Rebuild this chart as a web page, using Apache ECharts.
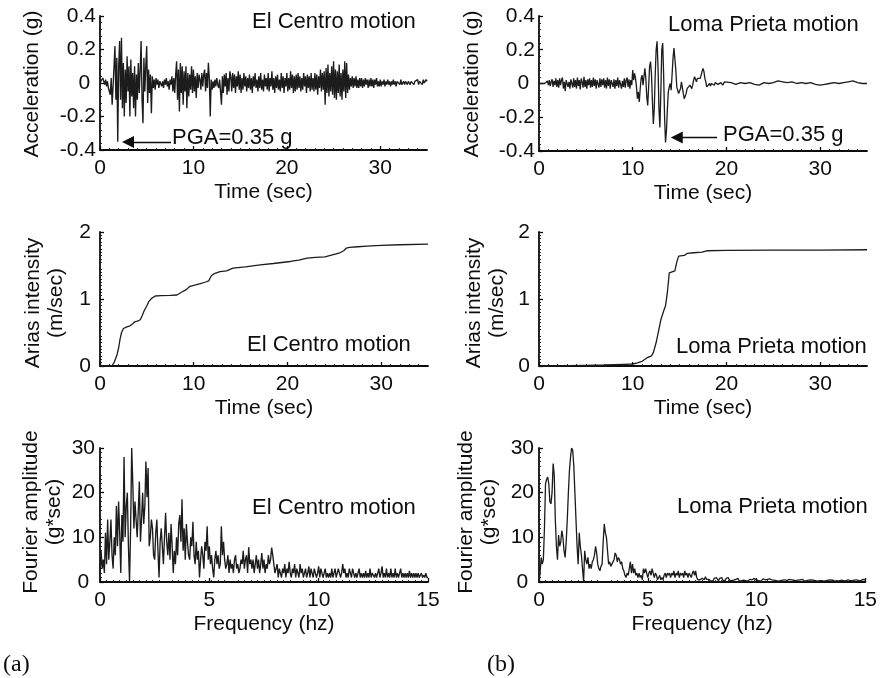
<!DOCTYPE html>
<html><head><meta charset="utf-8">
<script src="https://cdn.jsdelivr.net/npm/echarts@6/dist/echarts.min.js"></script>
<style>html,body{margin:0;padding:0;background:#fff}#c{width:880px;height:678px}</style>
</head><body><div id="c"></div>
<script>
// ---------- data ----------
const timeTicks = [0, 10, 20, 30];
const freqTicks = [0, 5, 10, 15];
const accTicks = [-0.4, -0.2, 0, 0.2, 0.4];
const ariasTicks = [0, 1, 2];
const fourierTicks = [0, 10, 20, 30];

// El Centro acceleration (g), dt = 0.1 s, t = 0..35 s
const elcAccDt = 0.1;
const elcAcc = [
 0, 0.01, -0.01, 0.03, 0.01, -0.01, 0.02, -0.02, 0.01, -0.03,
 -0.04, -0.07, 0.03, -0.13, -0.02, 0.1, 0.22, -0.1, 0.15, -0.35,
 0.1, 0.25, -0.1, 0.27, -0.15, 0.12, -0.2, 0.08, -0.12, 0.16,
 -0.05, 0.1, -0.2, 0.14, -0.08, 0.06, -0.15, 0.1, -0.2, 0.05,
 -0.1, 0.12, -0.06, 0.08, 0.25, -0.1, -0.24, 0.15, -0.05, 0.1,
 0.22, -0.12, 0.08, -0.06, 0.05, -0.18, 0.04, -0.03, 0.02, -0.04,
 0.03, -0.01, 0.02, -0.03, 0.01, 0.02, -0.02, 0.01, -0.03, 0.02,
 -0.01, 0.03, -0.02, 0.01, -0.04, 0.02, -0.01, 0.04, -0.05, 0.03,
 -0.06, 0.05, 0.13, -0.1, 0.08, -0.17, 0.12, -0.06, 0.1, -0.13,
 0.07, -0.05, 0.1, -0.15, 0.06, -0.08, 0.05, -0.04, 0.1, -0.06,
 0.08, -0.05, 0.04, -0.09, 0.06, -0.03, 0.05, 0.02, -0.04, 0.06,
 -0.02, 0.05, 0.08, -0.05, 0.06, -0.03, 0.12, 0.03, -0.2, 0.02,
 -0.04, 0.01, -0.03, 0.02, -0.02, 0.03, -0.01, -0.03, 0.02, -0.05,
 -0.13, 0.04, -0.06, 0.05, -0.02, 0.06, -0.07, 0.03, -0.05, 0.07,
 0.04, -0.05, 0.06, -0.03, 0.05, -0.06, 0.04, -0.02, 0.07, -0.04,
 0.05, -0.06, 0.03, -0.04, 0.06, -0.02, 0.04, -0.05, 0.03, -0.03,
 0.05, -0.04, 0.03, -0.06, 0.04, -0.02, 0.06, -0.03, 0.02, -0.05,
 0.04, -0.03, 0.06, -0.04, 0.02, -0.05, 0.05, -0.02, 0.03, -0.04,
 0.06, -0.05, 0.03, -0.02, 0.07, -0.04, 0.03, -0.06, 0.04, -0.03,
 0.05, -0.04, 0.02, -0.05, 0.06, -0.03, 0.04, -0.06, 0.03, -0.02,
 0.06, -0.05, 0.03, -0.04, 0.07, -0.03, 0.05, -0.06, 0.04, -0.05,
 0.05, -0.04, 0.06, -0.03, 0.04, -0.05, 0.03, -0.04, 0.06, -0.02,
 0.04, -0.06, 0.05, -0.03, 0.04, -0.05, 0.06, -0.04, 0.03, -0.05,
 0.06, -0.04, 0.05, -0.07, 0.04, -0.03, 0.08, -0.05, 0.06, -0.04,
 0.07, -0.13, 0.09, -0.06, 0.11, -0.08, 0.06, -0.05, 0.1, -0.07,
 0.13, -0.09, 0.08, -0.1, 0.07, -0.06, 0.11, -0.08, 0.06, -0.1,
 0.08, -0.05, 0.13, -0.09, 0.12, -0.06, 0.05, -0.04, 0.03, -0.02,
 0.04, -0.03, 0.03, -0.02, 0.04, -0.03, 0.02, -0.03, 0.03, -0.02,
 0.03, -0.03, 0.02, -0.02, 0.03, -0.01, 0.02, -0.03, 0.02, -0.02,
 0.03, -0.02, 0.02, -0.03, 0.02, -0.01, 0.03, -0.02, 0.01, -0.02,
 0.02, -0.02, 0.01, -0.01, 0.02, -0.02, 0.01, -0.01, 0.02, -0.01,
 0.01, -0.02, 0.01, -0.01, 0.02, -0.01, 0.01, -0.02, 0.01, 0.00,
 0.01, -0.01, 0.02, -0.01, 0.00, 0.01, -0.01, 0.01, 0.00, -0.01,
 0.01, 0.00, -0.01, 0.01, 0.02, 0.00, -0.01, 0.01, 0.00, 0.01,
 0.02, -0.01, 0.01, 0.00, 0.02, -0.01, 0.02, 0.00, 0.01, 0.02,
 0.01
];

// Loma Prieta acceleration (g): dt = 0.1 s for 0..19.9 s, then dt = 0.5 s for 20..35 s
const lpAccFineDt = 0.1;
const lpAccFine = [
 0, 0, 0.005, 0, -0.005, 0.005, 0, -0.01, 0.01, 0.015,
 -0.01, 0.02, -0.015, 0.01, 0.025, -0.02, 0.015, -0.01, 0.03, -0.02,
 0.02, -0.025, 0.03, -0.01, 0.02, 0.035, -0.03, 0.01, -0.045, 0.02,
 0.03, -0.02, 0.01, -0.03, 0.025, 0.015, -0.025, 0.03, -0.02, 0.02,
 -0.03, 0.035, -0.015, 0.02, -0.035, 0.03, 0.01, -0.025, 0.04, -0.02,
 0.02, -0.03, 0.025, -0.01, 0.03, -0.025, 0.02, -0.02, 0.035, -0.015,
 0.025, -0.03, 0.02, 0.01, -0.025, 0.03, -0.02, 0.025, -0.01, 0.03,
 -0.025, 0.02, -0.03, 0.035, -0.015, 0.025, -0.03, 0.02, 0.03, -0.02,
 0.025, -0.03, 0.02, -0.015, 0.035, -0.025, 0.02, 0.03, -0.03, 0.015,
 -0.02, 0.03, -0.025, 0.02, 0.035, -0.02, 0.025, -0.03, 0.02, -0.01,
 0.08, 0.02, 0.06, 0.03, -0.02, -0.09, -0.05, -0.11, -0.03, 0.03,
 0.05, -0.01, 0.04, 0.09, 0.03, -0.08, -0.13, -0.02, 0.1, 0.13,
 0.06, -0.1, -0.24, -0.15, 0.05, 0.2, 0.25, 0.1, -0.15, -0.26,
 -0.05, 0.2, 0.24, 0.05, -0.2, -0.35, -0.28, -0.15, -0.05, -0.02,
 0.0, -0.04, 0.05, 0.15, 0.21, 0.2, 0.08, -0.02, -0.04, -0.06,
 -0.07, -0.03, 0.01, 0.0, -0.06, -0.09, -0.09, -0.06, -0.03, -0.02,
 -0.03, -0.01, -0.02, -0.03, -0.01, 0.02, 0.04, 0.03, 0.01, 0.03,
 0.04, 0.02, 0.03, 0.05, 0.07, 0.09, 0.07, 0.03, 0.01, -0.02,
 -0.01, -0.02, 0.0, -0.015, 0.0, 0.01, 0.0, -0.01, 0.005, 0.01,
 0.01, -0.005, 0.0, -0.01, 0.005, 0.0, -0.01, 0.0, 0.01, 0.0
];
const lpAccCoarseStart = 20, lpAccCoarseDt = 0.5;
const lpAccCoarse = [
 0.0, 0.005, -0.005, 0.005, 0.0, 0.005, -0.005, -0.01, 0.005, 0.0,
 0.005, 0.015, 0.01, 0.005, 0.01, 0.0, 0.005, 0.0, 0.005, -0.005,
 -0.01, -0.005, 0.0, 0.005, 0.0, 0.005, 0.01, 0.015, 0.005, 0.0, 0.0
];

// Arias intensity (m/sec): [time, value]
const elcArias = [[0,0],[1.25,0],[1.5,0.05],[1.8,0.16],[2.0,0.28],[2.15,0.41],[2.3,0.5],[2.5,0.56],[2.8,0.58],[3.2,0.6],[3.5,0.63],[3.7,0.66],[4.0,0.67],[4.3,0.69],[4.5,0.75],[4.7,0.82],[5.0,0.9],[5.2,0.96],[5.5,1.01],[5.9,1.045],[6.5,1.05],[7.5,1.055],[8.2,1.06],[8.7,1.1],[9.2,1.14],[9.6,1.19],[10.2,1.21],[10.7,1.23],[11.2,1.25],[11.6,1.27],[11.9,1.35],[12.2,1.38],[12.8,1.41],[13.5,1.42],[14.2,1.46],[15.5,1.48],[17.1,1.51],[18.5,1.53],[20.3,1.56],[21.2,1.58],[22.1,1.61],[23.0,1.62],[24.0,1.63],[24.8,1.66],[25.6,1.69],[26.0,1.72],[26.3,1.76],[26.6,1.77],[27.5,1.78],[28.5,1.79],[30,1.8],[32,1.81],[35,1.82]];
const lpArias = [[0,0],[3,0.005],[5,0.01],[7,0.015],[8,0.02],[9,0.025],[10,0.03],[10.5,0.045],[11,0.07],[11.5,0.12],[12.0,0.15],[12.2,0.2],[12.5,0.35],[12.8,0.55],[13.0,0.69],[13.3,0.82],[13.5,0.9],[13.7,1.1],[13.9,1.39],[14.1,1.41],[14.5,1.42],[14.7,1.55],[14.9,1.64],[15.5,1.65],[15.8,1.68],[16.5,1.69],[17.4,1.7],[17.9,1.72],[20,1.725],[25,1.73],[30,1.73],[35,1.735]];

// Fourier amplitude (g*sec), df = 0.05 Hz, f = 0..15 Hz
const fourierDf = 0.05;
const elcFourier = [
 2, 7, 3, 5, 2, 11, 4, 14, 5, 9,
 14, 6, 3, 10, 6, 17, 8, 18, 11, 2,
 15, 9, 28, 10, 17, 20, 8, 0, 12, 30,
 22, 12, 18, 14, 10, 16, 22.5, 9, 14, 20,
 13, 17, 27, 19, 25.5, 8, 10, 14, 12, 6,
 5, 11, 14, 7, 1, 9, 12, 8, 4, 10,
 15.5, 9, 6, 11, 5, 13, 8, 2, 7, 4,
 10, 6, 13, 15, 9, 18.5, 7, 12, 5, 13,
 9, 6, 5, 10, 8, 13.5, 6, 4, 9, 5,
 7, 1, 5, 8, 6, 3, 9, 7, 12.5, 5,
 8, 4, 6, 3, 1, 5, 7, 4, 6, 3,
 4, 12.5, 6, 9, 5, 3, 4, 6, 2, 5,
 3, 4, 2, 5, 6, 3, 4, 2, 3, 5,
 4, 7, 3, 5, 6, 2, 7.8, 4, 5, 3,
 5, 2, 4, 6, 3, 5, 2, 4, 6.5, 3,
 5, 2, 4, 3, 6, 4, 5, 7.7, 6, 4,
 2, 3, 4, 1, 3, 2, 1, 3, 2, 4,
 1, 3, 2, 4.5, 2, 1, 3, 2, 4, 1,
 3, 2, 1, 4, 2, 3, 1, 2, 3, 1,
 2, 3.5, 1, 3, 2, 1, 3, 2, 1, 2,
 3.5, 1, 3, 2, 1, 2, 3, 1, 2, 1,
 2, 1, 3, 1, 2, 3, 1, 2, 3, 2,
 1, 2, 4, 2, 3, 1, 2, 1, 3, 2,
 1, 3, 2, 1, 2, 1, 2, 3, 1, 2,
 1, 2, 1, 2.5, 1, 2, 1, 3, 1, 2,
 2, 1, 2, 1, 2, 3, 1, 2, 3.5, 1,
 2, 1, 3, 1, 2, 1, 3, 1, 2, 1,
 3, 1, 2, 1, 2, 3, 1, 2, 1, 2,
 1, 2, 1, 2.5, 1, 2, 1, 2, 1, 2,
 1, 2, 1, 1.5, 2, 1, 1.5, 1, 2, 1,
 1
];
const lpFourier = [
 0, 2, 5.5, 4, 5, 12, 22, 23, 23.5, 22,
 18, 17.5, 20, 26.5, 24, 14, 8, 5, 10.5, 8,
 9, 11.5, 10, 7, 5.5, 9, 14, 20, 25, 28,
 30, 29.5, 26, 20, 14, 8, 4, 11, 8, 6,
 3, 0, 7, 5, 4, 5.5, 3, 4, 3, 4.5,
 5, 6, 8, 6.5, 4, 3, 2.5, 3.5, 4, 9,
 13, 11, 10, 7, 4, 4.5, 3.5, 4, 4.5, 5,
 6.5, 6, 4.5, 5.5, 5, 4, 4.5, 3, 2.5, 1.5,
 1, 2, 1.5, 3, 4.5, 2, 4, 2, 3, 1.5,
 2, 1, 2, 1, 1.5, 0.5, 3, 2, 3, 2,
 1, 2, 2.5, 1.5, 3, 2, 1, 2, 1.5, 0.5,
 1, 1.5, 0.5, 1, 0.5, 1.5, 2, 1, 2, 1.5,
 2, 1, 2, 1.5, 2.5, 1, 2, 1.5, 2.5, 1,
 2, 1.5, 2, 1, 2.5, 1.5, 2, 1, 2, 1.5,
 1, 2, 2.5, 1.5, 2.5, 1, 0.5, 0.8, 0.5, 0.3,
 0.8, 1, 0.5, 1.2, 0.6, 0.3, 0.6, 0.4, 0.2, 0.5,
 0.3, 0.8, 0.4, 1, 0.6, 0.3, 0.8, 0.5, 1, 0.4,
 0.6, 0.3, 0.8, 0.5, 1, 0.4, 0.6, 0.3, 0.7, 0.4,
 0.2, 0.6, 0.4, 0.8, 0.3, 0.5, 0.2, 0.6, 0.4, 0.7,
 0.3, 0.5, 0.2, 0.4, 0.6, 0.3, 0.5, 0.2, 0.8, 1,
 0.4, 0.8, 0.3, 0.6, 0.2, 0.5, 0.7, 0.3, 0.5, 0.2,
 0.6, 0.4, 0.7, 0.3, 0.5, 0.8, 0.4, 0.6, 0.3, 0.5,
 0.2, 0.5, 0.3, 0.6, 0.4, 0.2, 0.5, 0.7, 0.3, 0.4,
 0.6, 0.3, 0.5, 0.2, 0.4, 0.6, 0.3, 0.5, 0.4, 0.2,
 0.5, 0.3, 0.6, 0.4, 0.2, 0.5, 0.3, 0.6, 0.4, 0.3,
 0.5, 0.2, 0.4, 0.6, 0.3, 0.5, 0.2, 0.4, 0.3, 0.5,
 0.3, 0.4, 0.2, 0.5, 0.3, 0.2, 0.4, 0.3, 0.5, 0.2,
 0.4, 0.3, 0.2, 0.4, 0.3, 0.5, 0.2, 0.3, 0.4, 0.2,
 0.3, 0.4, 0.2, 0.3, 0.5, 0.2, 0.3, 0.4, 0.3, 0.2,
 0.4, 0.3, 0.5, 0.2, 0.3, 0.4, 0.3, 0.5, 0.6, 0.4,
 0.5
];

// ---------- chart ----------
const FONT = '"Liberation Sans", Arial, Helvetica, sans-serif';
const INK = '#0d0d0d';
const uniform = (arr, dt, t0) => arr.map((v, i) => [+(t0 + i * dt).toFixed(3), v]);

const elcAccData = uniform(elcAcc, elcAccDt, 0);
const lpAccData = uniform(lpAccFine, lpAccFineDt, 0).concat(uniform(lpAccCoarse, lpAccCoarseDt, lpAccCoarseStart));
const elcFourierData = uniform(elcFourier, fourierDf, 0);
const lpFourierData = uniform(lpFourier, fourierDf, 0);

const grids = [
  {left: 100, top: 16, width: 327, height: 134},
  {left: 539, top: 16, width: 328, height: 135},
  {left: 100, top: 232, width: 328, height: 134},
  {left: 539, top: 232, width: 328, height: 134},
  {left: 100, top: 448, width: 328, height: 134},
  {left: 539, top: 448, width: 328, height: 134}
];

function xAx(i, max, ticks, name, minorSplit) {
  return {
    gridIndex: i, type: 'value', min: 0, max: max,
    name: name, nameLocation: 'middle', nameGap: 32,
    nameTextStyle: {fontFamily: FONT, fontSize: 21, color: INK},
    axisLine: {onZero: false, lineStyle: {color: INK, width: 1.8}},
    axisTick: {show: true, inside: true, length: 4, customValues: ticks, lineStyle: {color: INK, width: 1.3}},
    minorTick: {show: true, splitNumber: minorSplit, length: 2, lineStyle: {color: '#222', width: 1}},
    axisLabel: {margin: 8, fontFamily: FONT, fontSize: 21, color: INK, customValues: ticks},
    splitLine: {show: false}
  };
}
function yAx(i, min, max, ticks, fmt, margin, minorSplit) {
  return {
    gridIndex: i, type: 'value', min: min, max: max,
    axisLine: {show: true, onZero: false, lineStyle: {color: INK, width: 1.8}},
    axisTick: {show: true, inside: true, length: 4, customValues: ticks, lineStyle: {color: INK, width: 1.3}},
    minorTick: {show: true, splitNumber: minorSplit, length: 2, lineStyle: {color: '#222', width: 1}},
    axisLabel: {margin: margin, fontFamily: FONT, fontSize: 21, color: INK, customValues: ticks, formatter: fmt},
    splitLine: {show: false}
  };
}
const accFmt = v => (Math.abs(v) < 1e-9 ? '0 ' : v.toFixed(1));
const intFmt = v => (Math.abs(v) < 1e-9 ? '0 ' : String(Math.round(v)));
const intFmtPlain = v => String(Math.round(v));

function lineSeries(i, data, width, extra) {
  return Object.assign({
    type: 'line', xAxisIndex: i, yAxisIndex: i, data: data,
    showSymbol: false, symbol: 'none', smooth: false, sampling: null,
    lineStyle: {color: '#1c1c1c', width: width}, silent: true, z: 3
  }, extra || {});
}
function arrow(from, to) {
  return {
    silent: true, symbol: ['none', 'triangle'], symbolSize: 12,
    label: {show: false}, lineStyle: {color: INK, width: 1.4, type: 'solid'},
    itemStyle: {color: INK},
    emphasis: {disabled: true},
    data: [[{coord: from}, {coord: to}]]
  };
}

function txt(x, y, text, size, opts) {
  return Object.assign({
    type: 'text', x: x, y: y, silent: true,
    style: Object.assign({
      text: text, fill: INK, font: size + 'px ' + FONT,
      align: 'left', verticalAlign: 'middle', textAlign: 'left', textVerticalAlign: 'middle'
    }, (opts && opts.style) || {})
  }, (opts && opts.el) || {});
}
function vtxt(x, y, text, size) {
  return {
    type: 'text', x: x, y: y, rotation: Math.PI / 2, silent: true,
    style: {text: text, fill: INK, font: size + 'px ' + FONT, lineHeight: 23,
      align: 'center', verticalAlign: 'middle', textAlign: 'center', textVerticalAlign: 'middle'}
  };
}

const option = {
  animation: false,
  backgroundColor: '#ffffff',
  grid: grids,
  xAxis: [
    xAx(0, 35, timeTicks, 'Time (sec)', 10),
    xAx(1, 35, timeTicks, 'Time (sec)', 10),
    xAx(2, 35, timeTicks, 'Time (sec)', 10),
    xAx(3, 35, timeTicks, 'Time (sec)', 10),
    xAx(4, 15, freqTicks, 'Frequency (hz)', 10),
    xAx(5, 15, freqTicks, 'Frequency (hz)', 10)
  ],
  yAxis: [
    yAx(0, -0.4, 0.4, accTicks, accFmt, 4, 5),
    yAx(1, -0.4, 0.4, accTicks, accFmt, 4, 5),
    yAx(2, 0, 2, ariasTicks, intFmtPlain, 9, 10),
    yAx(3, 0, 2, ariasTicks, intFmtPlain, 9, 10),
    yAx(4, 0, 30, fourierTicks, intFmt, 5, 5),
    yAx(5, 0, 30, fourierTicks, intFmt, 5, 5)
  ],
  series: [
    lineSeries(0, elcAccData, 1.35, {markLine: arrow([7.6, -0.352], [3.0, -0.352])}),
    lineSeries(1, lpAccData, 1.3, {markLine: arrow([19.0, -0.32], [14.7, -0.32])}),
    lineSeries(2, elcArias, 1.3),
    lineSeries(3, lpArias, 1.3),
    lineSeries(4, elcFourierData, 1.35),
    lineSeries(5, lpFourierData, 1.3)
  ],
  graphic: [
    txt(252, 22, 'El Centro motion', 22),
    txt(668, 25, 'Loma Prieta motion', 22),
    txt(172, 138, 'PGA=0.35 g', 22),
    txt(723, 135, 'PGA=0.35 g', 22),
    txt(247, 345, 'El Centro motion', 22),
    txt(676, 347, 'Loma Prieta motion', 22),
    txt(252, 508, 'El Centro motion', 22),
    txt(677, 507, 'Loma Prieta motion', 22),
    vtxt(32, 84, 'Acceleration (g)', 21),
    vtxt(472, 84, 'Acceleration (g)', 21),
    vtxt(45, 303, 'Arias intensity\n(m/sec)', 21),
    vtxt(486, 303, 'Arias intensity\n(m/sec)', 21),
    vtxt(43, 512, 'Fourier amplitude\n(g*sec)', 21),
    vtxt(478, 512, 'Fourier amplitude\n(g*sec)', 21),
    txt(3, 665, '(a)', 24, {style: {font: '24px "Liberation Serif", "Times New Roman", serif'}}),
    txt(487, 665, '(b)', 24, {style: {font: '24px "Liberation Serif", "Times New Roman", serif'}})
  ]
};

const chart = echarts.init(document.getElementById('c'), null, {renderer: 'canvas'});
chart.setOption(option);
</script>
</body></html>
